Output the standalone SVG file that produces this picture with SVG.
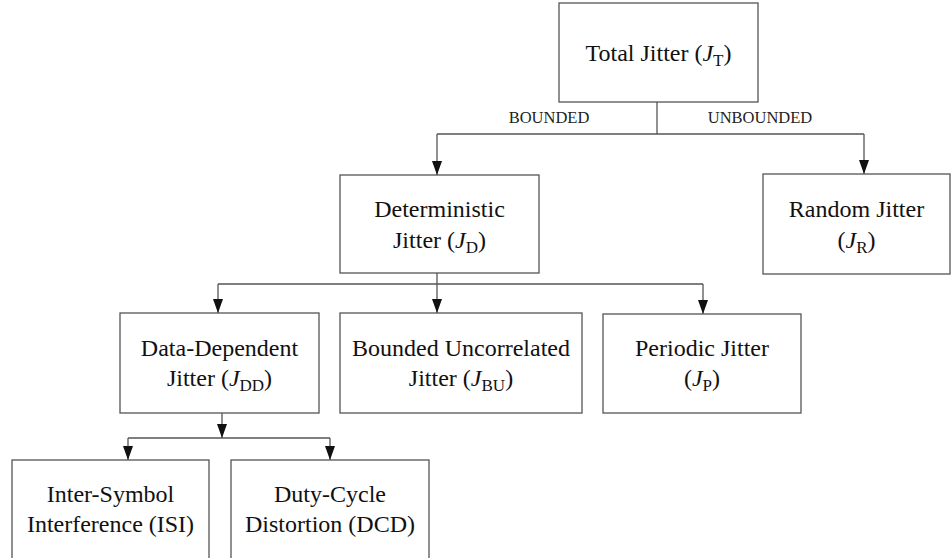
<svg xmlns="http://www.w3.org/2000/svg" width="951" height="558" viewBox="0 0 951 558" font-family="Liberation Serif, Times New Roman, serif">
  <style>
    .box { fill: #ffffff; stroke: #555555; stroke-width: 1.3; }
    .ln { fill: none; stroke: #555555; stroke-width: 1.3; }
    .t { font-size: 24px; fill: #111111; text-anchor: middle; }
    .lab { font-size: 16.5px; fill: #222222; text-anchor: middle; }
    .it { font-style: italic; }
    .sub { font-size: 17px; }
  </style>
  <defs>
    <marker id="arrow" viewBox="0 0 14 10" markerWidth="14" markerHeight="10" refX="14" refY="5" orient="auto" markerUnits="userSpaceOnUse">
      <path d="M0,0 L14,5 L0,10 z" fill="#111111"/>
    </marker>
  </defs>

  <g id="connectors">
    <!-- Total -> Deterministic / Random -->
    <path class="ln" d="M657,102 V134"/>
    <path class="ln" d="M437,134 H864"/>
    <path class="ln" d="M437,134 V175" marker-end="url(#arrow)"/>
    <path class="ln" d="M864,134 V174" marker-end="url(#arrow)"/>
    <!-- Deterministic -> components -->
    <path class="ln" d="M218,284 H703"/>
    <path class="ln" d="M437,273 V313" marker-end="url(#arrow)"/>
    <path class="ln" d="M218,284 V313" marker-end="url(#arrow)"/>
    <path class="ln" d="M703,284 V314" marker-end="url(#arrow)"/>
    <!-- Data-Dependent -> ISI / DCD -->
    <path class="ln" d="M222,413 V438" marker-end="url(#arrow)"/>
    <path class="ln" d="M128,438 H330"/>
    <path class="ln" d="M128,438 V460" marker-end="url(#arrow)"/>
    <path class="ln" d="M330,438 V460" marker-end="url(#arrow)"/>
    <text class="lab" x="549" y="123">BOUNDED</text>
    <text class="lab" x="760" y="123">UNBOUNDED</text>
  </g>

  <g id="total">
    <rect class="box" x="559" y="3" width="199" height="99"/>
    <text class="t" x="658.5" y="61">Total Jitter (<tspan class="it">J</tspan><tspan class="sub" dy="5">T</tspan><tspan dy="-5">)</tspan></text>
  </g>

  <g id="deterministic">
    <rect class="box" x="340" y="175" width="199" height="98"/>
    <text class="t" x="439.5" y="217">Deterministic</text>
    <text class="t" x="439.5" y="248">Jitter (<tspan class="it">J</tspan><tspan class="sub" dy="5">D</tspan><tspan dy="-5">)</tspan></text>
  </g>

  <g id="random">
    <rect class="box" x="763" y="174" width="187" height="100"/>
    <text class="t" x="856.5" y="217">Random Jitter</text>
    <text class="t" x="856.5" y="248">(<tspan class="it">J</tspan><tspan class="sub" dy="5">R</tspan><tspan dy="-5">)</tspan></text>
  </g>

  <g id="data-dependent">
    <rect class="box" x="120" y="313" width="199" height="100"/>
    <text class="t" x="219.5" y="356">Data-Dependent</text>
    <text class="t" x="219.5" y="386">Jitter (<tspan class="it">J</tspan><tspan class="sub" dy="5">DD</tspan><tspan dy="-5">)</tspan></text>
  </g>

  <g id="bounded-uncorrelated">
    <rect class="box" x="340" y="313" width="242" height="100"/>
    <text class="t" x="461" y="356">Bounded Uncorrelated</text>
    <text class="t" x="461" y="386">Jitter (<tspan class="it">J</tspan><tspan class="sub" dy="5">BU</tspan><tspan dy="-5">)</tspan></text>
  </g>

  <g id="periodic">
    <rect class="box" x="603" y="314" width="198" height="99"/>
    <text class="t" x="702" y="356">Periodic Jitter</text>
    <text class="t" x="702" y="386">(<tspan class="it">J</tspan><tspan class="sub" dy="5">P</tspan><tspan dy="-5">)</tspan></text>
  </g>

  <g id="isi">
    <rect class="box" x="12" y="460" width="197" height="110"/>
    <text class="t" x="110.5" y="502">Inter-Symbol</text>
    <text class="t" x="110.5" y="532">Interference (ISI)</text>
  </g>

  <g id="dcd">
    <rect class="box" x="231" y="460" width="198" height="110"/>
    <text class="t" x="330" y="502">Duty-Cycle</text>
    <text class="t" x="330" y="532">Distortion (DCD)</text>
  </g>
</svg>
